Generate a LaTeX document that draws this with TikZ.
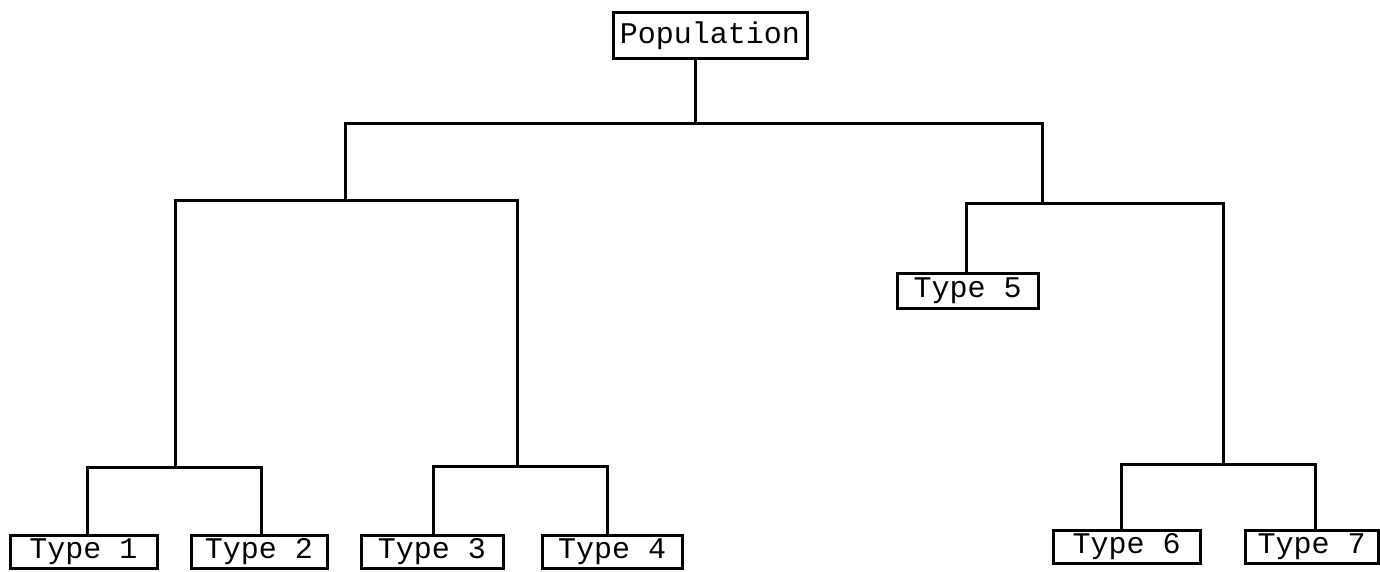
\documentclass[tikz,border=0pt]{standalone}
\usepackage{fontspec}
\setmonofont{Liberation Mono}
\usetikzlibrary{positioning}

\begin{document}
\begin{tikzpicture}[x=1pt,y=-1pt,
  tbox/.style={draw,line width=3pt,inner sep=0pt,minimum width=143pt,minimum height=33pt,
    font=\ttfamily\fontsize{30}{34}\selectfont},
  link/.style={line width=3pt}]
\useasboundingbox (0,0) rectangle (1380,572);
% boxes
\node[tbox,minimum width=194pt,minimum height=46pt](pop)at(710,36){Population};
\node[tbox,minimum width=147pt](t1)at(83.5,551.5){Type 1};
\node[tbox,minimum width=136pt](t2)at(259,551.5){Type 2};
\node[tbox,minimum width=142pt](t3)at(432,551.5){Type 3};
\node[tbox,minimum width=140pt](t4)at(612,551.5){Type 4};
\node[tbox,minimum width=141pt,minimum height=35pt](t5)at(967.5,290.5){Type 5};
\node[tbox,minimum width=147pt](t6)at(1126.5,547){Type 6};
\node[tbox,minimum width=133pt](t7)at(1311.5,547){Type 7};
% junctions
\coordinate(r0)at(695,124);
\coordinate(r0l)at(345,124);\coordinate(r0r)at(1042,124);
\coordinate(a0)at(345,200);\coordinate(a0l)at(175,200);\coordinate(a0r)at(517,200);
\coordinate(a1)at(175,467);\coordinate(a1l)at(87,467);\coordinate(a1r)at(261,467);
\coordinate(a2)at(517,466);\coordinate(a2l)at(433,466);\coordinate(a2r)at(607,466);
\coordinate(b0)at(1042,203);\coordinate(b0l)at(966,203);\coordinate(b0r)at(1223,203);
\coordinate(b1)at(1223,464);\coordinate(b1l)at(1121,464);\coordinate(b1r)at(1315,464);
% tree
\draw[link](pop.south -| r0)--(r0);
\draw[link](a0)--(r0l)--(r0r)--(b0);
\draw[link](a1)--(a0l)--(a0r)--(a2);
\draw[link](t1.north -| a1l)--(a1l)--(a1r)--(t2.north -| a1r);
\draw[link](t3.north -| a2l)--(a2l)--(a2r)--(t4.north -| a2r);
\draw[link](t5.north -| b0l)--(b0l)--(b0r)--(b1);
\draw[link](t6.north -| b1l)--(b1l)--(b1r)--(t7.north -| b1r);
\end{tikzpicture}
\end{document}
